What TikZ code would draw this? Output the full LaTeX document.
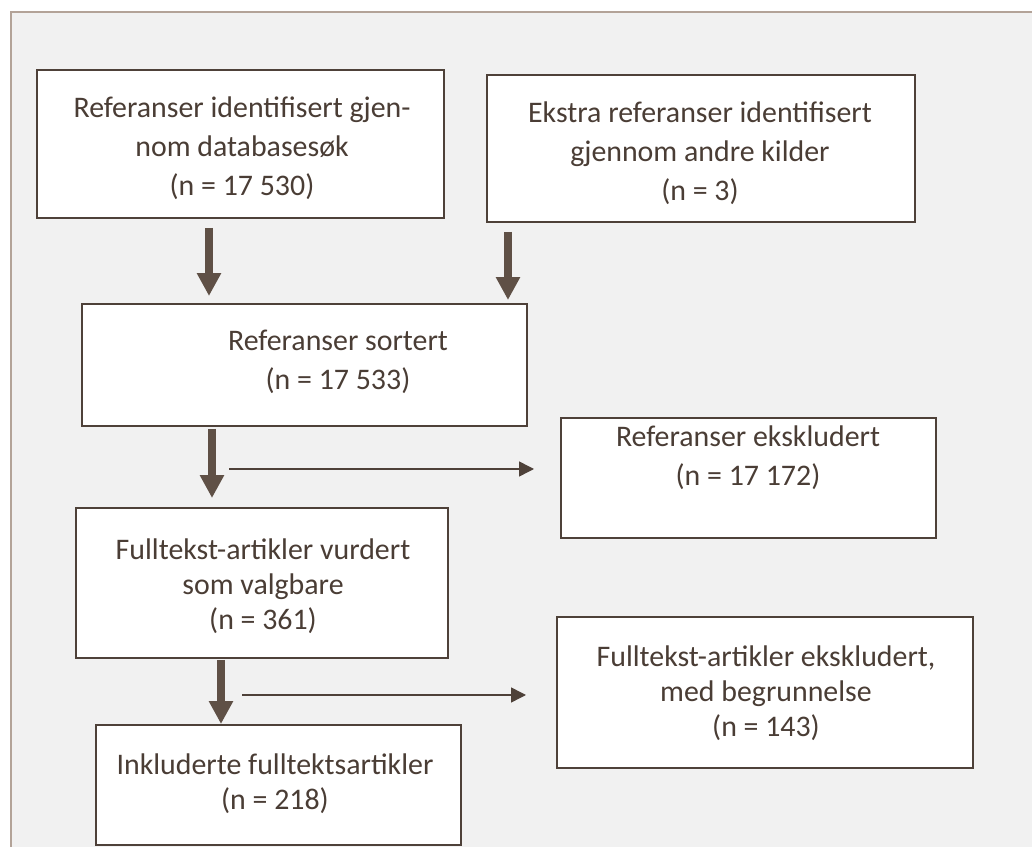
\documentclass[tikz,border=0pt]{standalone}
\usepackage{fontspec}
\setmainfont{Carlito}
\usetikzlibrary{arrows.meta}
\definecolor{framecol}{HTML}{B3A398}
\definecolor{paper}{HTML}{F1F1F1}
\definecolor{ink}{HTML}{4A3D35}
\definecolor{edge}{HTML}{4E4139}
\definecolor{shaft}{HTML}{5F5046}
\newlength\pix
\setlength\pix{0.02cm}
\begin{document}
\begin{tikzpicture}[x=0.02cm, y=-0.02cm,
    box/.style={draw=edge, line width=0.04cm, fill=white, inner sep=0pt},
    txt/.style={text=ink, align=center, inner sep=0pt, font=\fontsize{17}{22.2}\selectfont},
    tight/.style={font=\fontsize{17}{19.9}\selectfont},
    fat/.style={draw=shaft, line width=0.16cm, -{Triangle[width=0.46cm,length=0.46cm]}},
    thin/.style={draw=edge, line width=0.03cm, -{Triangle[width=0.3cm,length=0.3cm]}}]
    \useasboundingbox (0,0) rectangle (1032,847);
    \clip (0,0) rectangle (1032,847);
    \draw[draw=framecol, fill=paper, line width=0.04cm] (11,12) rectangle (1060,880);

    % boxes
    \node[box, minimum width=407\pix, minimum height=148\pix] (refdb) at (240.5,144) {};
    \node[box, minimum width=428\pix, minimum height=147\pix] (refextra) at (701,148.5) {};
    \node[box, minimum width=445\pix, minimum height=122\pix] (sorted) at (304.5,365) {};
    \node[box, minimum width=375\pix, minimum height=120\pix] (excl) at (748.5,478) {};
    \node[box, minimum width=372\pix, minimum height=150\pix] (eligible) at (262,583) {};
    \node[box, minimum width=416\pix, minimum height=151\pix] (ftexcl) at (765,692.5) {};
    \node[box, minimum width=365\pix, minimum height=120\pix] (incl) at (278.5,785) {};

    % texts
    \node[txt] (trefdb) at (242,148) {Referanser identifisert gjen-\\nom databasesøk\\(n = 17 530)};
    \node[txt] (trefextra) at (700,153) {Ekstra referanser identifisert\\gjennom andre kilder\\(n = 3)};
    \node[txt] (tsorted) at (338,362) {Referanser sortert\\(n = 17 533)};
    \node[txt] (texcl) at (748,458) {Referanser ekskludert\\(n = 17 172)};
    \node[txt, tight] (teligible) at (263,586) {Fulltekst-artikler vurdert\\som valgbare\\(n = 361)};
    \node[txt, tight] (tftexcl) at (766,693) {Fulltekst-artikler ekskludert,\\med begrunnelse\\(n = 143)};
    \node[txt, tight] (tincl) at (275,784) {Inkluderte fulltektsartikler\\(n = 218)};

    % arrows
    \draw[fat, shorten <=0.18cm, shorten >=0.14cm] (refdb.south -| 209,0) -- (sorted.north -| 209,0);
    \draw[fat, shorten <=0.18cm, shorten >=0.06cm] (refextra.south -| 508,0) -- (sorted.north -| 508,0);
    \draw[fat, shorten <=0.04cm, shorten >=0.18cm] (sorted.south -| 212,0) -- (eligible.north -| 212,0);
    \draw[fat, shorten <=0.02cm] (eligible.south -| 221,0) -- (incl.north -| 221,0);
    \coordinate (h1) at (229,469);
    \coordinate (h2) at (242,695);
    \draw[thin, shorten >=0.52cm] (h1) -- (h1 -| excl.west);
    \draw[thin, shorten >=0.6cm] (h2) -- (h2 -| ftexcl.west);
\end{tikzpicture}
\end{document}
